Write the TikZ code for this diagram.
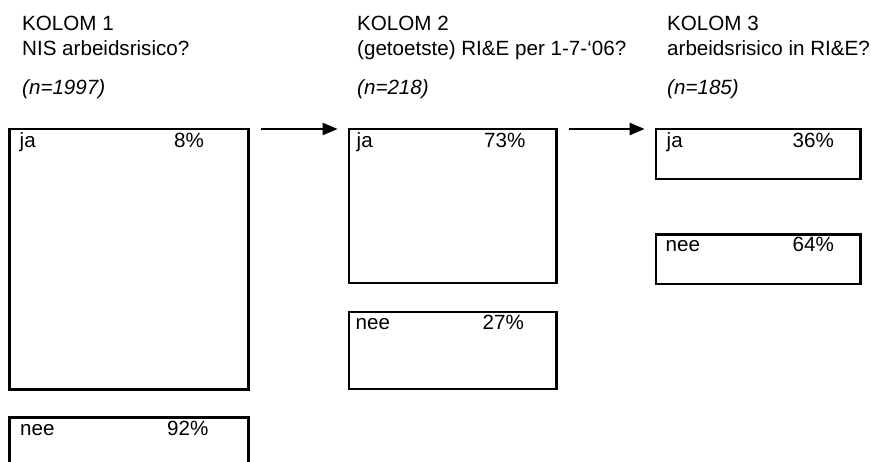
\documentclass[tikz,border=0pt]{standalone}
\usepackage{fontspec}
\setmainfont{Liberation Sans}
\usepackage{tikz}
\usetikzlibrary{arrows.meta}

\begin{document}
\begin{tikzpicture}[x=1pt,y=-1pt,
		box/.style={draw,line width=2.8pt,outer sep=0pt,inner sep=0pt,anchor=north west},
		txt/.style={anchor=base west,inner sep=0pt,font=\fontsize{20.6}{24}\selectfont},
		pijl/.style={-{Triangle[length=15pt,width=12.5pt]},line width=1.3pt,shorten <=12pt,shorten >=11.5pt}]
		\useasboundingbox (0,0) rectangle (871,462);
		\clip (0,0) rectangle (871,462);
		\node[txt] (kolom1) at (22,31) {KOLOM 1};
		\node[txt] (vraag1) at (22,56) {NIS arbeidsrisico?};
		\node[txt] (n1) at (22,95) {\itshape (n=1997)};
		\node[txt] (kolom2) at (357,31) {KOLOM 2};
		\node[txt] (vraag2) at (357,56) {(getoetste) RI\&E per 1-7-‘06?};
		\node[txt] (n2) at (357,95) {\itshape (n=218)};
		\node[txt] (kolom3) at (667,31) {KOLOM 3};
		\node[txt] (vraag3) at (667,56) {arbeidsrisico in RI\&E?};
		\node[txt] (n3) at (667,95) {\itshape (n=185)};
		\node[box,minimum width=239pt,minimum height=260.5pt] (ja1) at (9.5,129) {};
		\node[box,minimum width=239pt,minimum height=100pt] (nee1) at (9.5,417.8) {};
		\node[box,minimum width=207.5pt,minimum height=154pt] (ja2) at (349,129) {};
		\node[box,minimum width=207.5pt,minimum height=77pt] (nee2) at (349,312) {};
		\node[box,minimum width=204.5pt,minimum height=50pt] (ja3) at (656,129) {};
		\node[box,minimum width=204.5pt,minimum height=49.5pt] (nee3) at (656,234.5) {};
		\node[txt] (ja1a) at (19.5,148) {ja};
		\node[txt] (ja1b) at (174,148) {8\%};
		\node[txt] (nee1a) at (20,435.5) {nee};
		\node[txt] (nee1b) at (167,435.5) {92\%};
		\node[txt] (ja2a) at (356.5,148) {ja};
		\node[txt] (ja2b) at (484,148) {73\%};
		\node[txt] (nee2a) at (355.5,330) {nee};
		\node[txt] (nee2b) at (482.5,330) {27\%};
		\node[txt] (ja3a) at (666.5,148) {ja};
		\node[txt] (ja3b) at (792.5,148) {36\%};
		\node[txt] (nee3a) at (665.5,252) {nee};
		\node[txt] (nee3b) at (792.5,252) {64\%};
		\draw[pijl] (ja1.north east) -- (ja2.north west);
		\draw[pijl] (ja2.north east) -- (ja3.north west);
\end{tikzpicture}
\end{document}
